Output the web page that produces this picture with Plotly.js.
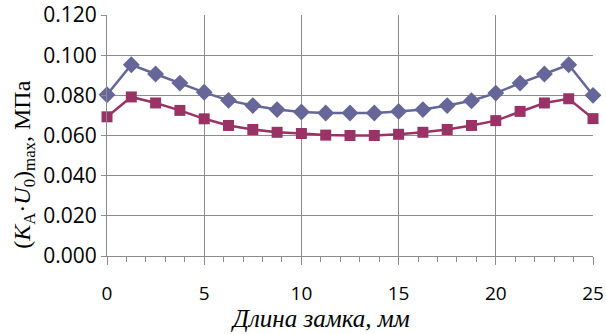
<!DOCTYPE html>
<html><head><meta charset="utf-8">
<script src="https://cdn.plot.ly/plotly-3.0.1.min.js"></script>
<style>html,body{margin:0;padding:0;background:#fff}#c{width:606px;height:334px}</style>
</head><body><div id="c"></div>
<script>
const xLen = [0,1.25,2.5,3.75,5,6.25,7.5,8.75,10,11.25,12.5,13.75,15,16.25,17.5,18.75,20,21.25,22.5,23.75,25];
const seriesBlue = [0.0803,0.0952,0.0906,0.0861,0.0815,0.0775,0.0749,0.0729,0.0717,0.0712,0.0712,0.0712,0.0720,0.0729,0.0749,0.0773,0.0811,0.0861,0.0906,0.0952,0.0800];
const seriesRed = [0.0693,0.0792,0.0762,0.0725,0.0683,0.0650,0.0630,0.0616,0.0610,0.0602,0.0600,0.0600,0.0606,0.0616,0.0630,0.0650,0.0674,0.0720,0.0762,0.0783,0.0684];
const xTitle = 'Длина замка, мм';
const yTitle = '(<i>K</i><sub>A</sub>·<i>U</i><sub>0</sub>)<sub>max</sub>, МПа';

const traces = [
 {x:xLen,y:seriesBlue,mode:'lines+markers',line:{color:'#666699',width:2.5},marker:{symbol:'diamond',size:13,color:'#666699'},cliponaxis:false},
 {x:xLen,y:seriesRed,mode:'lines+markers',line:{color:'#993366',width:2.5},marker:{symbol:'square',size:11,color:'#993366'},cliponaxis:false}
];
const gc='#8c8c8c';
const layout={
 width:606,height:334,margin:{l:107,r:13,t:15,b:78},
 showlegend:false,paper_bgcolor:'#fff',plot_bgcolor:'#fff',
 font:{family:'Open Sans, sans-serif',size:20,color:'#000'},
 xaxis:{range:[0,25],dtick:5,tick0:0,showgrid:true,gridcolor:gc,gridwidth:1,
   showline:true,linecolor:gc,linewidth:1,ticks:'outside',ticklen:8,tickcolor:gc,
   ticklabelstandoff:12,zeroline:false,tickfont:{size:19},
   minor:{dtick:1,ticks:'outside',ticklen:5,tickcolor:gc,showgrid:false}},
 yaxis:{range:[0,0.12],dtick:0.02,tickformat:'.3f',showgrid:true,gridcolor:gc,gridwidth:1,
   showline:true,linecolor:gc,linewidth:1,ticks:'outside',ticklen:5,tickcolor:gc,zeroline:false,tickfont:{size:21}},
 annotations:[
  {text:xTitle,xref:'paper',yref:'paper',x:0.44,y:-0.26,xanchor:'center',yanchor:'middle',showarrow:false,
   font:{family:'Liberation Serif, serif',size:25,style:'italic'}},
  {text:yTitle,xref:'paper',yref:'paper',x:-0.17,y:0.38,xanchor:'center',yanchor:'middle',showarrow:false,textangle:-90,
   font:{family:'Liberation Serif, serif',size:24}}
 ]
};
Plotly.newPlot('c',traces,layout,{displayModeBar:false,staticPlot:true});
</script></body></html>
